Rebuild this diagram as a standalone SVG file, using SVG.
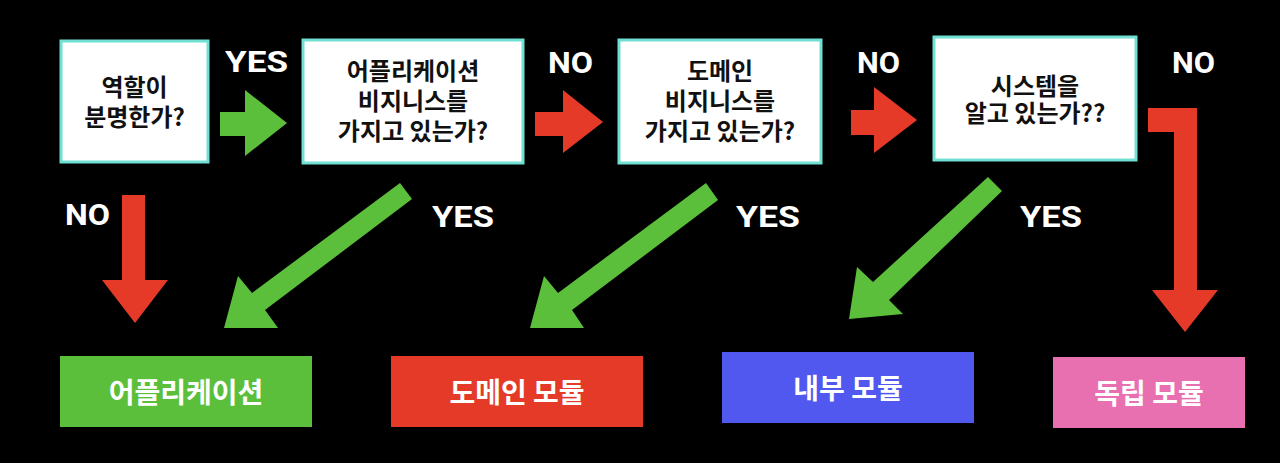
<svg xmlns="http://www.w3.org/2000/svg" width="1280" height="463" viewBox="0 0 1280 463">
<style>
.q{fill:#ffffff;stroke:#6fe0d2;stroke-width:3}
.qt{font-family:"Noto Sans CJK KR","Noto Sans",sans-serif;font-weight:700;font-size:24px;fill:#111;text-anchor:middle}
.rt{font-family:"Noto Sans CJK KR","Noto Sans",sans-serif;font-weight:700;font-size:28px;fill:#fff;text-anchor:middle;dominant-baseline:central}
.lb{font-family:Roboto,"Noto Sans",sans-serif;font-weight:700;font-size:30px;fill:#fff}
.g{fill:#5cbf3c}
.r{fill:#e53a28}
</style>
<rect width="1280" height="463" fill="#000"/>
<g id="q1">
<rect class="q" x="61" y="41" width="147" height="121"/>
<text class="qt" x="134.5" y="96">역할이</text>
<text class="qt" x="134.5" y="126">분명한가?</text>
</g>
<g id="q2">
<rect class="q" x="303" y="40" width="220" height="123"/>
<text class="qt" x="413" y="80">어플리케이션</text>
<text class="qt" x="413" y="110">비지니스를</text>
<text class="qt" x="413" y="140">가지고 있는가?</text>
</g>
<g id="q3">
<rect class="q" x="619" y="40" width="202" height="123"/>
<text class="qt" x="720" y="80">도메인</text>
<text class="qt" x="720" y="110">비지니스를</text>
<text class="qt" x="720" y="140">가지고 있는가?</text>
</g>
<g id="q4">
<rect class="q" x="934" y="37" width="202" height="123"/>
<text class="qt" x="1035" y="95">시스템을</text>
<text class="qt" x="1035" y="122">알고 있는가??</text>
</g>
<g id="r1">
<rect x="60" y="356" width="252" height="71" fill="#5cbf3c"/>
<text class="rt" x="186" y="391">어플리케이션</text>
</g>
<g id="r2">
<rect x="391" y="356" width="252" height="71" fill="#e53a28"/>
<text class="rt" x="517" y="391">도메인 모듈</text>
</g>
<g id="r3">
<rect x="722" y="352" width="252" height="71" fill="#5158f0"/>
<text class="rt" x="848" y="387">내부 모듈</text>
</g>
<g id="r4">
<rect x="1053" y="357" width="192" height="71" fill="#e86fb0"/>
<text class="rt" x="1149" y="392">독립 모듈</text>
</g>
<g id="connectors">
<polygon class="g" points="220,112 245,112 245,90 287,123 245,156 245,136 220,136"/>
<polygon class="r" points="535,112 563,112 563,90 603,122 563,153 563,136 535,136"/>
<polygon class="r" points="851,110 874,110 874,87 917,120 874,153 874,135 851,135"/>
<polygon class="r" points="1148,108 1197,108 1197,290 1218,290 1185,332 1152,290 1174,290 1174,132 1148,132"/>
<polygon class="r" points="122,195 145,195 145,280 168,280 135,323 102,280 122,280"/>
<polygon class="g" points="400,183 412,199 265,310 278,328 224,328 238,276 252,293"/>
<polygon class="g" points="706,183 718,200 572,310 584,328 530,328 544,276 558,293"/>
<polygon class="g" points="988,177 1002,191 889,300 903,314 849,319 857,267 873,282"/>
<text class="lb" x="225" y="72" textLength="63" lengthAdjust="spacingAndGlyphs">YES</text>
<text class="lb" x="548" y="73" textLength="45" lengthAdjust="spacingAndGlyphs">NO</text>
<text class="lb" x="857" y="73" textLength="43" lengthAdjust="spacingAndGlyphs">NO</text>
<text class="lb" x="1172" y="73" textLength="43" lengthAdjust="spacingAndGlyphs">NO</text>
<text class="lb" x="65" y="225" textLength="45" lengthAdjust="spacingAndGlyphs">NO</text>
<text class="lb" x="432" y="227" textLength="62" lengthAdjust="spacingAndGlyphs">YES</text>
<text class="lb" x="736" y="227" textLength="64" lengthAdjust="spacingAndGlyphs">YES</text>
<text class="lb" x="1020" y="227" textLength="62" lengthAdjust="spacingAndGlyphs">YES</text>
</g>
</svg>
